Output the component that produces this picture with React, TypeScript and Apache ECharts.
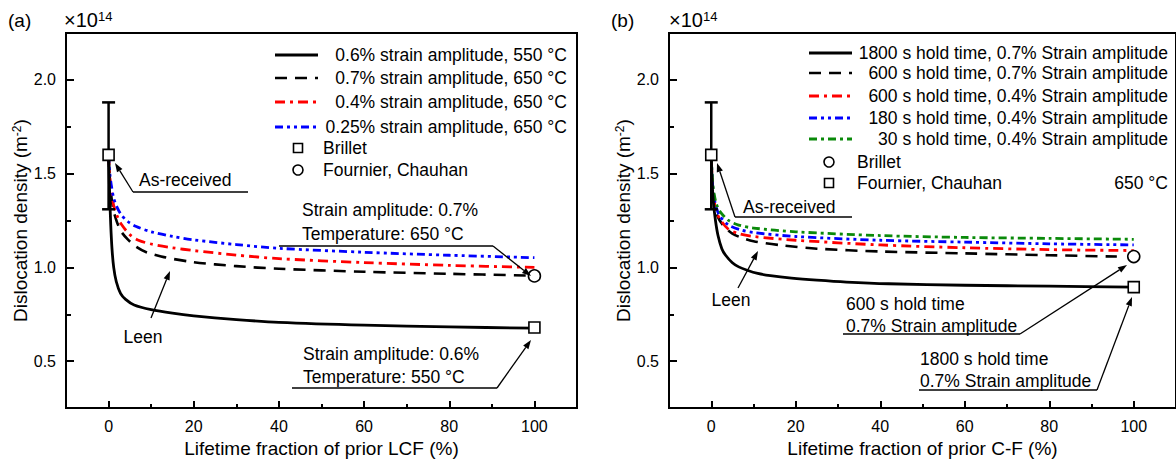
import React, { useEffect, useRef } from "react";
import * as echarts from "echarts";

// ---------- tick values ----------
const xTickLabels = [0, 20, 40, 60, 80, 100];
const xMinorTicks = [10, 30, 50, 70, 90];
const yTickLabels = [0.5, 1.0, 1.5, 2.0];
const yMinorTicks = [0.75, 1.25, 1.75];

// ---------- panel (a) ----------
const aSolid06_550 = [[0, 1.6], [0.15, 1.47], [0.3, 1.36], [0.5, 1.23], [0.8, 1.1], [1.2, 1.0], [1.8, 0.925], [2.8, 0.862], [4, 0.83], [6, 0.8], [10, 0.775], [15, 0.756], [20, 0.742], [30, 0.722], [40, 0.707], [60, 0.692], [80, 0.683], [100, 0.676]];
const aDash07_650 = [[0, 1.6], [0.3, 1.46], [0.7, 1.37], [1.2, 1.3], [2, 1.24], [3, 1.19], [4.5, 1.15], [6.5, 1.11], [9, 1.08], [13, 1.055], [20, 1.028], [30, 1.007], [40, 0.993], [60, 0.977], [80, 0.966], [98, 0.957]];
const aDashDot04_650 = [[0, 1.6], [0.3, 1.48], [0.7, 1.4], [1.2, 1.33], [2, 1.275], [3, 1.23], [5, 1.175], [7, 1.145], [10, 1.125], [15, 1.105], [20, 1.09], [30, 1.066], [40, 1.047], [60, 1.026], [80, 1.011], [100, 1.0]];
const aDashDotDot025_650 = [[0, 1.6], [0.3, 1.5], [0.7, 1.43], [1.2, 1.37], [2, 1.32], [3, 1.28], [4.5, 1.245], [6.5, 1.218], [10, 1.19], [15, 1.165], [20, 1.147], [30, 1.122], [40, 1.102], [60, 1.081], [80, 1.065], [100, 1.052]];
const aBrilletSquare = [[100, 0.68]];
const aFournierCircle = [[100, 0.955]];

// ---------- panel (b) ----------
const bSolid1800_07 = [[0, 1.6], [0.2, 1.46], [0.5, 1.35], [1, 1.25], [1.6, 1.17], [2.5, 1.1], [3.4, 1.065], [5, 1.025], [6.5, 1.003], [8.5, 0.985], [11, 0.968], [14, 0.956], [19, 0.943], [25, 0.932], [32, 0.922], [42, 0.913], [60, 0.905], [80, 0.9], [100, 0.895]];
const bDash600_07 = [[0, 1.6], [0.3, 1.42], [0.7, 1.34], [1.2, 1.29], [2, 1.25], [3.4, 1.21], [5, 1.18], [7, 1.16], [10, 1.14], [17, 1.117], [25, 1.1], [40, 1.085], [60, 1.075], [80, 1.065], [96, 1.058]];
const bDashDot600_04 = [[0, 1.6], [0.3, 1.43], [0.7, 1.35], [1.2, 1.3], [2, 1.26], [4, 1.205], [6.5, 1.18], [10, 1.165], [20, 1.145], [40, 1.12], [60, 1.105], [80, 1.095], [100, 1.09]];
const bDashDotDot180_04 = [[0, 1.6], [0.3, 1.44], [0.7, 1.37], [1.2, 1.32], [2, 1.275], [4, 1.228], [7, 1.2], [10, 1.186], [20, 1.165], [40, 1.145], [60, 1.135], [80, 1.126], [100, 1.12]];
const bDashDot30_04 = [[0, 1.6], [0.3, 1.46], [0.7, 1.39], [1.2, 1.34], [2, 1.3], [4, 1.252], [6.5, 1.226], [10, 1.21], [20, 1.19], [40, 1.17], [60, 1.16], [80, 1.155], [100, 1.15]];
const bBrilletCircle = [[100, 1.058]];
const bFournierSquare = [[100, 0.895]];

// as-received: x, mean, low, high
const asReceived = [[0, 1.6, 1.31, 1.88]];

// ---------- texts ----------
const aLegendLabels = [
  "0.6% strain amplitude, 550 °C",
  "0.7% strain amplitude, 650 °C",
  "0.4% strain amplitude, 650 °C",
  "0.25% strain amplitude, 650 °C",
  "Brillet",
  "Fournier, Chauhan",
];
const bLegendLabels = [
  "1800 s hold time, 0.7% Strain amplitude",
  "600 s hold time, 0.7% Strain amplitude",
  "600 s hold time, 0.4% Strain amplitude",
  "180 s hold time, 0.4% Strain amplitude",
  "30 s hold time, 0.4% Strain amplitude",
  "Brillet",
  "Fournier, Chauhan",
];

const FONT = "'Liberation Sans', Arial, Helvetica, sans-serif";
const RED = "#ff0000";
const BLUE = "#0000ff";
const GREEN = "#0a8a0a";

const STYLE_SOLID = { color: "#000", type: "solid" as any, width: 2.8 };
const STYLE_DASH = { color: "#000", type: [12, 8] as any, width: 2.6 };
const STYLE_DASHDOT_R = { color: RED, type: [10, 5, 3, 5] as any, width: 2.8 };
const STYLE_DDD_B = { color: BLUE, type: [8, 4, 3, 4, 3, 4] as any, width: 2.8 };
const STYLE_DASHDOT_G = { color: GREEN, type: [8, 4, 3, 4] as any, width: 2.8 };

function txt(text: string, x: number, y: number, size: number, align = "left", extra: any = {}) {
  return {
    type: "text",
    z: 100,
    style: {
      text,
      x,
      y,
      fill: "#000",
      fontSize: size,
      fontFamily: FONT,
      textAlign: align,
      textVerticalAlign: "middle",
      ...extra,
    },
  };
}

function seg(x1: number, y1: number, x2: number, y2: number, w = 1.3, dash: number[] | null = null, color = "#000") {
  return {
    type: "line",
    z: 100,
    shape: { x1, y1, x2, y2 },
    style: { stroke: color, lineWidth: w, lineDash: dash || undefined, lineCap: "butt" },
  };
}

function arrow(x1: number, y1: number, x2: number, y2: number) {
  const ang = Math.atan2(y2 - y1, x2 - x1);
  const L = 9;
  const W = 3.2;
  const c = Math.cos(ang);
  const s = Math.sin(ang);
  const bx = x2 - L * c;
  const by = y2 - L * s;
  return [
    seg(x1, y1, bx, by, 1.3),
    {
      type: "polygon",
      z: 100,
      shape: { points: [[x2, y2], [bx - W * s, by + W * c], [bx + W * s, by - W * c]] },
      style: { fill: "#000" },
    },
  ];
}

function annotation(lines: string[], tx: number, ys: number[], ulX1: number, ulY: number, ulX2: number, tipX: number, tipY: number) {
  const els: any[] = lines.map((l, i) => txt(l, tx, ys[i], 17.5));
  els.push(seg(ulX1, ulY, ulX2, ulY, 1.3));
  els.push(...arrow(ulX2, ulY, tipX, tipY));
  return els;
}

function legendLine(x1: number, x2: number, y: number, st: any) {
  const dash = Array.isArray(st.type) ? st.type : null;
  return seg(x1, y, x2, y, st.width, dash, st.color);
}

function legendRect(cx: number, cy: number) {
  return {
    type: "rect",
    z: 100,
    shape: { x: cx - 4.5, y: cy - 4.5, width: 9, height: 9 },
    style: { fill: "#fff", stroke: "#000", lineWidth: 1.6 },
  };
}
function legendCircle(cx: number, cy: number) {
  return {
    type: "circle",
    z: 100,
    shape: { cx, cy, r: 5 },
    style: { fill: "#fff", stroke: "#000", lineWidth: 1.6 },
  };
}

function buildGraphic() {
  const els: any[] = [];
  const sup = { rich: { b: { fontSize: 20, fontFamily: FONT }, s: { fontSize: 13, fontFamily: FONT, verticalAlign: "top" } } };
  els.push(txt("(a)", 8, 20, 19));
  els.push(txt("{b|×10}{s|14}", 64, 20, 20, "left", sup));
  els.push(txt("(b)", 611, 20, 19));
  els.push(txt("{b|×10}{s|14}", 669, 20, 20, "left", sup));

  // legend (a)
  const aRows = [55, 78, 102, 127, 148, 170];
  const aStyles = [STYLE_SOLID, STYLE_DASH, STYLE_DASHDOT_R, STYLE_DDD_B];
  aStyles.forEach((st, i) => {
    els.push(legendLine(275, 318, aRows[i], st));
    els.push(txt(aLegendLabels[i], 567, aRows[i], 17.5, "right"));
  });
  els.push(legendRect(298, aRows[4]));
  els.push(txt(aLegendLabels[4], 323, aRows[4], 17.5));
  els.push(legendCircle(298, aRows[5]));
  els.push(txt(aLegendLabels[5], 323, aRows[5], 17.5));

  // legend (b)
  const bRows = [53, 73, 96, 118, 139, 162, 183];
  const bStyles = [STYLE_SOLID, STYLE_DASH, STYLE_DASHDOT_R, STYLE_DDD_B, STYLE_DASHDOT_G];
  bStyles.forEach((st, i) => {
    els.push(legendLine(809, 852, bRows[i], st));
    els.push(txt(bLegendLabels[i], 1168, bRows[i], 17.5, "right"));
  });
  els.push(legendCircle(829, bRows[5]));
  els.push(txt(bLegendLabels[5], 857, bRows[5], 17.5));
  els.push(legendRect(829, bRows[6]));
  els.push(txt(bLegendLabels[6], 857, bRows[6], 17.5));
  els.push(txt("650 °C", 1168, bRows[6], 17.5, "right"));

  // annotations (a)
  els.push(txt("As-received", 139, 180, 17.5));
  els.push(seg(133, 192, 248, 192, 1.3));
  els.push(...arrow(133, 192, 115, 163));
  els.push(txt("Leen", 143, 337, 17.5, "center"));
  els.push(...arrow(151, 318, 170, 271));
  els.push(...annotation(["Strain amplitude: 0.7%", "Temperature: 650 °C"], 302, [210, 234], 279, 246, 493, 531, 276));
  els.push(...annotation(["Strain amplitude: 0.6%", "Temperature: 550 °C"], 303, [354, 377], 292, 388, 497, 531, 340));

  // annotations (b)
  els.push(txt("As-received", 743, 207, 17.5));
  els.push(seg(735, 217, 852, 217, 1.3));
  els.push(...arrow(735, 217, 717, 163));
  els.push(txt("Leen", 731, 300, 17.5, "center"));
  els.push(...arrow(738, 288, 758, 251));
  els.push(...annotation(["600 s hold time", "0.7% Strain amplitude"], 846, [304, 326], 843, 334, 1020, 1127, 265));
  els.push(...annotation(["1800 s hold time", "0.7% Strain amplitude"], 920, [359, 381], 919, 390, 1097, 1132, 297));
  return els;
}

function axesFor(g: number, xName: string) {
  const xMain = {
    type: "value",
    gridIndex: g,
    position: "bottom",
    min: -10,
    max: 110,
    name: xName,
    nameLocation: "middle",
    nameGap: 27,
    nameTextStyle: { fontSize: 19, fontFamily: FONT, color: "#000" },
    axisLine: { show: true, onZero: false, lineStyle: { color: "#000", width: 2 } },
    axisTick: { show: true, inside: true, length: 7, customValues: xTickLabels, lineStyle: { color: "#000", width: 2 } },
    axisLabel: { show: true, customValues: xTickLabels, fontSize: 16, fontFamily: FONT, color: "#000", margin: 10 },
    splitLine: { show: false },
  };
  const xMinor = {
    type: "value",
    gridIndex: g,
    position: "bottom",
    min: -10,
    max: 110,
    axisLine: { show: false, onZero: false },
    axisTick: { show: true, inside: true, length: 4, customValues: xMinorTicks, lineStyle: { color: "#000", width: 2 } },
    axisLabel: { show: false },
    splitLine: { show: false },
  };
  const yMain = {
    type: "value",
    gridIndex: g,
    position: "left",
    min: 0.25,
    max: 2.25,
    name: "{t|Dislocation density (m}{s|-2}{t|)}",
    nameLocation: "middle",
    nameGap: 36,
    nameTextStyle: {
      color: "#000",
      rich: {
        t: { fontSize: 19, fontFamily: FONT, color: "#000" },
        s: { fontSize: 12, fontFamily: FONT, color: "#000", verticalAlign: "top" },
      },
    },
    axisLine: { show: true, onZero: false, lineStyle: { color: "#000", width: 2 } },
    axisTick: { show: true, inside: true, length: 8, customValues: yTickLabels, lineStyle: { color: "#000", width: 2 } },
    axisLabel: {
      show: true,
      customValues: yTickLabels,
      fontSize: 16,
      fontFamily: FONT,
      color: "#000",
      margin: 10,
      formatter: (v: number) => v.toFixed(1),
    },
    splitLine: { show: false },
  };
  const yMinor = {
    type: "value",
    gridIndex: g,
    position: "left",
    min: 0.25,
    max: 2.25,
    axisLine: { show: false, onZero: false },
    axisTick: { show: true, inside: true, length: 5, customValues: yMinorTicks, lineStyle: { color: "#000", width: 2 } },
    axisLabel: { show: false },
    splitLine: { show: false },
  };
  return { x: [xMain, xMinor], y: [yMain, yMinor] };
}

function curve(g: number, data: number[][], st: any, z = 3) {
  return {
    type: "line",
    xAxisIndex: 2 * g,
    yAxisIndex: 2 * g,
    data,
    showSymbol: false,
    symbol: "none",
    smooth: 0.3,
    z,
    lineStyle: { color: st.color, type: st.type, width: st.width, cap: "butt", join: "round" },
    silent: true,
  };
}

function marker(g: number, data: number[][], shape: string) {
  return {
    type: "scatter",
    xAxisIndex: 2 * g,
    yAxisIndex: 2 * g,
    data,
    symbol: shape,
    symbolSize: shape === "rect" ? 11 : 12,
    z: 10,
    itemStyle: { color: "#fff", borderColor: "#000", borderWidth: 1.6, opacity: 1 },
    silent: true,
  };
}

function errorBar(g: number) {
  return {
    type: "custom",
    xAxisIndex: 2 * g,
    yAxisIndex: 2 * g,
    data: asReceived,
    encode: { x: 0, y: [1, 2, 3] },
    z: 4,
    silent: true,
    renderItem: (_p: any, api: any) => {
      const lo = api.coord([api.value(0), api.value(2)]);
      const hi = api.coord([api.value(0), api.value(3)]);
      const st = { stroke: "#000", lineWidth: 2.5 };
      return {
        type: "group",
        children: [
          { type: "line", shape: { x1: lo[0], y1: lo[1], x2: hi[0], y2: hi[1] }, style: st },
          { type: "line", shape: { x1: hi[0] - 6.5, y1: hi[1], x2: hi[0] + 6.5, y2: hi[1] }, style: st },
          { type: "line", shape: { x1: lo[0] - 6.5, y1: lo[1], x2: lo[0] + 6.5, y2: lo[1] }, style: st },
        ],
      };
    },
  };
}

export default function App() {
  const ref = useRef<HTMLDivElement>(null);
  useEffect(() => {
    if (!ref.current) return;
    const chart = echarts.init(ref.current, null, { renderer: "svg" });
    const a = axesFor(0, "Lifetime fraction of prior LCF (%)");
    const b = axesFor(1, "Lifetime fraction of prior C-F (%)");
    const option: any = {
      animation: false,
      backgroundColor: "#fff",
      grid: [
        { left: 66, top: 33, width: 511, height: 382, show: true, borderColor: "#000", borderWidth: 2, backgroundColor: "transparent", containLabel: false },
        { left: 669, top: 33, width: 509, height: 378, show: true, borderColor: "#000", borderWidth: 2, backgroundColor: "transparent", containLabel: false },
      ],
      xAxis: [...a.x, ...b.x],
      yAxis: [...a.y, ...b.y],
      series: [
        errorBar(0),
        curve(0, aSolid06_550, STYLE_SOLID, 5),
        curve(0, aDash07_650, STYLE_DASH),
        curve(0, aDashDot04_650, STYLE_DASHDOT_R),
        curve(0, aDashDotDot025_650, STYLE_DDD_B),
        marker(0, asReceived.map((d) => [d[0], d[1]]), "rect"),
        marker(0, aBrilletSquare, "rect"),
        marker(0, aFournierCircle, "circle"),
        errorBar(1),
        curve(1, bSolid1800_07, STYLE_SOLID, 5),
        curve(1, bDash600_07, STYLE_DASH),
        curve(1, bDashDot600_04, STYLE_DASHDOT_R),
        curve(1, bDashDotDot180_04, STYLE_DDD_B),
        curve(1, bDashDot30_04, STYLE_DASHDOT_G),
        marker(1, asReceived.map((d) => [d[0], d[1]]), "rect"),
        marker(1, bBrilletCircle, "circle"),
        marker(1, bFournierSquare, "rect"),
      ],
      graphic: buildGraphic(),
    };
    chart.setOption(option);
    return () => chart.dispose();
  }, []);
  return <div ref={ref} style={{ position: "absolute", left: 0, top: 0, width: 1176, height: 463 }} />;
}
